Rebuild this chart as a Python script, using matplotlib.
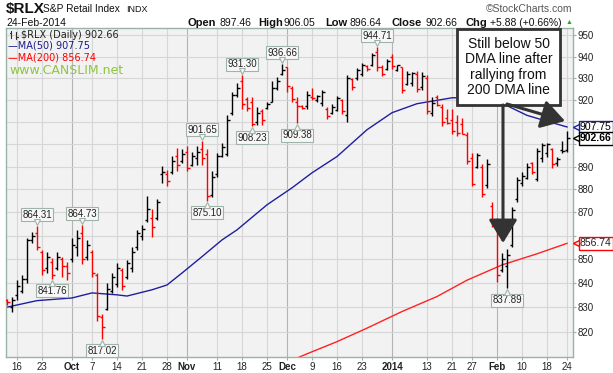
import matplotlib
matplotlib.use('Agg')
import matplotlib.pyplot as plt
from matplotlib.patches import Rectangle
from matplotlib.ticker import FixedLocator, NullLocator, FixedFormatter
from matplotlib.transforms import offset_copy

plt.rcParams['font.family'] = ['Liberation Sans', 'DejaVu Sans']

# daily OHLC, 12-Sep-2013 .. 24-Feb-2014 (one entry per trading day)
opens = [833, 830, 835, 836.7, 841.5, 858, 861, 853, 846.4, 849,
         846.3, 850, 847.3, 850.2, 855, 861, 851, 853, 843.3, 826,
         829.3, 836.7, 839.6, 845.3, 842.4, 846.3, 855, 860, 866.7, 867.7,
         867.7, 886.6, 886.6, 887.6, 894.7, 892.7, 896.7, 890.6, 893.7, 897.7,
         895.7, 877.6, 886.6, 894.7, 895.7, 914, 922.3, 928.6, 920.3, 919.3,
         910, 915.2, 916.2, 919.3, 925.5, 931.8, 935, 925.5, 919.3, 917.2,
         917.2, 921.5, 920, 918.5, 916, 914, 915.5, 920, 913, 929.5,
         930, 932, 935.5, 936, 942, 935, 934.5, 940, 934, 935,
         927.5, 928, 932, 926, 930, 914, 921.5, 917, 912, 911,
         910, 909, 904, 894, 890, 890, 882, 873, 866, 845.5,
         847, 856, 876, 883, 885, 891.5, 884.5, 894, 896, 898,
         891.5, 897.5, 897.46]
highs = [833.5, 834.4, 841.4, 843.5, 859.2, 861.4, 864.31, 854, 853, 850.7,
         853, 851, 849, 859.2, 862.6, 864.73, 858.3, 854, 844.3, 827,
         840.1, 844.4, 848.3, 846.3, 849.8, 855, 862.6, 864.8, 877, 871.3,
         875.7, 890.1, 888.6, 894.6, 898.5, 897.7, 899, 896.7, 899, 901.65,
         897.7, 888, 896.3, 900.7, 913.3, 923.8, 928, 931.30, 921.3, 921.2,
         917, 915.7, 919.3, 928.5, 930.7, 936.66, 935.4, 926.5, 921.2, 917.8,
         924.2, 925.7, 922.3, 924.8, 916.7, 918, 922, 920.3, 931.6, 930.2,
         934.9, 937, 936, 941.8, 944.71, 936.3, 938.8, 941.4, 936.3, 935.4,
         933.2, 932.8, 933.2, 932.8, 931.6, 921.2, 922.4, 918, 915.7, 915.7,
         913.3, 912, 905.3, 896.3, 896.3, 891, 893.2, 874.4, 867.7, 852.8,
         854.5, 872.2, 885.6, 887.6, 891.6, 892.3, 898.5, 900.7, 900.5, 898.5,
         894.1, 901.3, 906.05]
lows = [831, 828, 833, 835.7, 840, 857, 854, 843.4, 844.4, 841.76,
        845.4, 842.5, 841.3, 849, 851.2, 848.2, 849.8, 842.5, 824.3, 817.02,
        829, 835.7, 838.4, 837.2, 841.5, 844.7, 854, 858.3, 865.7, 859.6,
        866.7, 883, 881.3, 886.6, 887.9, 891.7, 887.9, 890.1, 890.6, 890.6,
        875.10, 876.5, 885.6, 894.1, 894.6, 913.3, 921.2, 915.7, 914.8, 908.23,
        908.8, 908.8, 915.7, 918.9, 924.8, 931.7, 923.8, 919, 909.38, 915.7,
        915.7, 920.2, 918.9, 917.4, 911.2, 913.5, 915.2, 913.5, 909.8, 924.8,
        929.4, 931.2, 933.5, 935.8, 933.5, 931, 934, 934.5, 933.2, 923.4,
        927, 926.2, 923.8, 924.8, 913.5, 912.6, 917.1, 908, 909, 904.4,
        903.9, 904.4, 891, 881.3, 889.6, 876.5, 880.8, 863.7, 840.5, 844.7,
        837.89, 855, 874.4, 881.6, 884.4, 886.6, 883.5, 892.3, 894.1, 889.6,
        890.1, 896.2, 896.64]
closes = [832, 833, 838.7, 841.5, 858, 860, 855, 845.4, 851, 843.5,
          851, 847.3, 844.4, 856, 859, 850, 856, 844.3, 826.3, 822,
          837.7, 842.4, 846.3, 838.7, 848.3, 853, 861, 862.8, 871.7, 863.8,
          874.7, 887.6, 883.6, 892.7, 890.7, 895.7, 889.6, 894.7, 896.7, 893.7,
          877, 885.6, 894.7, 898.7, 911, 922.3, 925.5, 918.3, 916.2, 909,
          914.2, 911, 918.3, 925.5, 928.7, 934, 926.5, 920.3, 917.2, 916.2,
          922.3, 921, 921.8, 923.5, 912.5, 917, 921, 915, 930, 926,
          934, 936, 934.5, 941, 935, 932, 938, 935.5, 936, 924.5,
          932, 932.5, 925, 931, 915, 918.5, 917.5, 910, 909.5, 906,
          905, 904.5, 892.5, 882.5, 895, 878, 891, 865, 843.5, 850,
          852, 871, 884, 886, 890, 887.5, 897, 899.5, 900, 891,
          893.5, 896.78, 902.66]

ma50_idx = [0, 6, 13, 17, 22, 24, 29, 32, 35, 39, 43, 46, 52, 57, 61, 66, 72,
            77, 82, 89, 95, 99, 104, 107, 112]
ma50 = [830.0, 832.7, 833.8, 835.9, 835.1, 834.6, 837.2, 839.2, 844.2, 851.1,
        858.2, 862.5, 873.3, 880.7, 887.3, 894.5, 906.5, 914.2, 918.3, 921.0,
        921.0, 918.5, 913.0, 911.0, 907.75]
ma200_idx = [58, 61, 66, 72, 79, 86, 92, 99, 106, 112]
ma200 = [809.3, 811.8, 815.9, 821.4, 828.2, 834.4, 841.2, 847.6, 852.3, 856.74]

peak_idx = [6, 15, 39, 47, 55, 74]
trough_idx = [9, 19, 40, 49, 58, 100]

tick_idx = [2, 7, 13, 17, 22, 27, 32, 36, 42, 47, 52, 56, 61, 66, 71, 77,
            84, 89, 93, 98, 103, 108, 112]
tick_labels = ['16', '23', 'Oct', '7', '14', '21', '28', 'Nov', '11', '18', '25',
               'Dec', '9', '16', '23', '2014', '13', '21', '27', 'Feb', '10', '18', '24']
month_labels = ['Oct', 'Nov', 'Dec', '2014', 'Feb']
price_ticks = list(range(820, 960, 10))
hidden_prices = [860, 900, 910]   # covered by the value tags

W, H = 613, 373


def fx(x):
    return x / W


def fy(y):
    return 1 - y / H


fig = plt.figure(figsize=(W / 100, H / 100), dpi=100)
ax = fig.add_axes([fx(6), fy(357), 567 / W, 329 / H])
ax.set_facecolor('#f2f2f2')

# grid
for t, lab in zip(tick_idx, tick_labels):
    ax.axvline(t, color='#b4b4b4' if lab in month_labels else '#d6d6d6', lw=0.8, zorder=0)
for p in price_ticks:
    ax.axhline(p, color='#d6d6d6', lw=0.8, zorder=0)

# OHLC bars
for i in range(len(closes)):
    prev = closes[i - 1] if i > 0 else opens[i]
    col = '#ff0000' if closes[i] < prev else '#000000'
    ax.vlines(i, lows[i], highs[i], color=col, lw=1.0, zorder=3)
    ax.hlines(opens[i], i - 0.5, i, color=col, lw=1.0, zorder=3)
    ax.hlines(closes[i], i, i + 0.5, color=col, lw=1.0, zorder=3)

ax.plot(ma50_idx, ma50, color='#1f1f9e', lw=1.0, zorder=2)
ax.plot(ma200_idx, ma200, color='#ff2222', lw=1.0, zorder=2)

box_kw = dict(boxstyle='square,pad=0.15', fc='#f7f7f7', ec='#9fb3a8', lw=0.8)
up = offset_copy(ax.transData, fig=fig, x=0, y=4, units='dots')
down = offset_copy(ax.transData, fig=fig, x=0, y=-4, units='dots')
for i in peak_idx:
    ax.annotate(f'{highs[i]:.2f}', xy=(i, highs[i]), xytext=(0, 11), textcoords='offset pixels',
                ha='center', va='center', fontsize=7, color='#222222', bbox=box_kw, zorder=5)
    ax.plot(i, highs[i], marker='v', ms=4, mfc='#f7f7f7', mec='#9fb3a8', mew=0.8,
            transform=up, zorder=6)
for i in trough_idx:
    ax.annotate(f'{lows[i]:.2f}', xy=(i, lows[i]), xytext=(0, -12), textcoords='offset pixels',
                ha='center', va='center', fontsize=7, color='#222222', bbox=box_kw, zorder=5)
    ax.plot(i, lows[i], marker='^', ms=4, mfc='#f7f7f7', mec='#9fb3a8', mew=0.8,
            transform=down, zorder=6)

ax.set_yscale('log')
ax.set_xlim(-0.2, 113.2)
ax.set_ylim(809.7, 953.5)
ax.yaxis.tick_right()
ax.yaxis.set_major_locator(FixedLocator(price_ticks))
ax.yaxis.set_major_formatter(FixedFormatter(['' if p in hidden_prices else str(p)
                                             for p in price_ticks]))
ax.yaxis.set_minor_locator(NullLocator())
ax.set_xticks(tick_idx)
ax.set_xticklabels(tick_labels)
for lab in ax.get_xticklabels():
    if lab.get_text() in month_labels:
        lab.set_fontweight('bold')
ax.tick_params(axis='both', labelsize=7, colors='#222222', length=2, pad=1.5)
ax.tick_params(axis='both', color='#99b3a6')
for s in ax.spines.values():
    s.set_color('#99b3a6')
    s.set_linewidth(1.0)

# right side value tags
ytr = ax.get_yaxis_transform()
for val, col, weight in [(907.75, '#1f1f9e', 'normal'), (902.66, '#000000', 'bold'),
                         (856.74, '#ff0000', 'normal')]:
    ax.text(1.012, val, f'{val:.2f}', transform=ytr, ha='left', va='center', fontsize=7.5,
            fontweight=weight, color='#000000' if col != '#ff0000' else '#222222',
            bbox=dict(boxstyle='square,pad=0.12', fc='white', ec=col, lw=1.0), zorder=6,
            clip_on=False)
    ax.plot([1.006], [val], marker='<', ms=5, mfc='white', mec=col, mew=1.0,
            transform=ytr, clip_on=False, zorder=7)

# comment box and arrows
ax.add_patch(Rectangle((fx(457), fy(105)), fx(560) - fx(457), fy(29) - fy(105),
                       transform=fig.transFigure, fc='white', ec='#333333', lw=2, zorder=8))
fig.text(fx(508.5), fy(67), 'Still below 50\nDMA line after\nrallying from\n200 DMA line',
         ha='center', va='center', fontsize=10, linespacing=1.15, color='#111111', zorder=9)
arrow_kw = dict(arrowstyle='-|>,head_length=0.9,head_width=0.55', lw=2.2, color='#333333',
                mutation_scale=16, shrinkA=0, shrinkB=0)
ax.annotate('', xy=(fx(503), fy(243)), xycoords='figure fraction',
            xytext=(fx(503), fy(105)), textcoords='figure fraction', arrowprops=arrow_kw, zorder=8)
ax.annotate('', xy=(fx(565), fy(121)), xycoords='figure fraction',
            xytext=(fx(507), fy(104)), textcoords='figure fraction', arrowprops=arrow_kw, zorder=8)

# legend inside the chart
ax.plot([fx(11), fx(11)], [fy(31), fy(38)], transform=fig.transFigure, color='#333333', lw=0.8)
ax.plot([fx(9.5), fx(11)], [fy(33), fy(33)], transform=fig.transFigure, color='#333333', lw=0.8)
ax.plot([fx(16), fx(16)], [fy(32), fy(39)], transform=fig.transFigure, color='#333333', lw=0.8)
ax.plot([fx(16), fx(17.5)], [fy(37), fy(37)], transform=fig.transFigure, color='#333333', lw=0.8)
fig.text(fx(21), fy(35), '$RLX (Daily) 902.66', fontsize=7, family='DejaVu Sans',
         color='#222222', va='center')
fig.text(fx(8), fy(46), '\u2014MA(50) 907.75', fontsize=7, family='DejaVu Sans',
         color='#1a1a8c', va='center')
fig.text(fx(8), fy(57.5), '\u2014MA(200) 856.74', fontsize=7, family='DejaVu Sans',
         color='#ff0000', va='center')
fig.text(fx(9), fy(71), 'www.CANSLIM.net', fontsize=9, family='DejaVu Sans',
         color='#8dc63f', va='center')

# header
fig.text(fx(6), fy(9), '$RLX', fontsize=11, fontweight='bold', va='center', color='#111111')
fig.text(fx(43), fy(9.5), 'S&P Retail Index', fontsize=7.3, va='center', color='#111111')
fig.text(fx(126), fy(9.5), 'INDX', fontsize=6.5, va='center', color='#111111')
fig.text(fx(6), fy(22.5), '24-Feb-2014', fontsize=7.5, va='center', color='#111111')
fig.text(fx(572), fy(8.5), '\u00a9StockCharts.com', fontsize=7.5, va='center', ha='right',
         color='#555555')
header = [(188, 'Open', 'bold'), (220, '897.46', 'normal'), (258, 'High', 'bold'),
          (283, '906.05', 'normal'), (325, 'Low', 'bold'), (349, '896.64', 'normal'),
          (392, 'Close', 'bold'), (425, '902.66', 'normal'), (465, 'Chg', 'bold'),
          (490, '+5.88 (+0.66%)', 'normal')]
for x, s, w in header:
    fig.text(fx(x), fy(22.5), s, fontsize=8 if w == 'bold' else 7.5, fontweight=w,
             va='center', color='#111111')
fig.text(fx(569), fy(23), '\u25b2', fontsize=5, va='center', ha='center', color='#22aa22')

fig.savefig('out.png', dpi=100)
